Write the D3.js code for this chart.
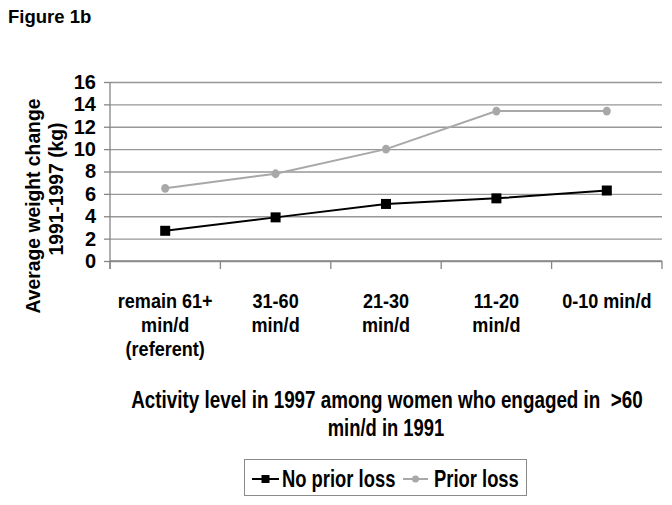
<!DOCTYPE html>
<html>
<head>
<meta charset="utf-8">
<script src="https://cdn.jsdelivr.net/npm/d3@7"></script>
<style>
  html, body { margin: 0; padding: 0; background: #fff; }
  text { font-family: "Liberation Sans", Arial, sans-serif; font-weight: bold; fill: #000; white-space: pre; }
</style>
</head>
<body>
<script>
// ---- data ----
const categories = ["remain 61+ min/d (referent)", "31-60 min/d", "21-30 min/d", "11-20 min/d", "0-10 min/d"];
const categoryLines = [["remain 61+", "min/d", "(referent)"], ["31-60", "min/d"], ["21-30", "min/d"], ["11-20", "min/d"], ["0-10 min/d"]];
const noPriorLoss = [2.7, 3.9, 5.1, 5.6, 6.3];
const priorLoss = [6.5, 7.8, 10.0, 13.4, 13.4];
const yTicks = [0, 2, 4, 6, 8, 10, 12, 14, 16];
const seriesNames = ["No prior loss", "Prior loss"];
const figureTitle = "Figure 1b";
const yTitleLines = ["Average weight change", "1991-1997 (kg)"];
const xTitleLines = ["Activity level in 1997 among women who engaged in  >60", "min/d in 1991"];

// ---- layout ----
const W = 672, H = 505;
const plot = { left: 110, right: 662, top: 82, bottom: 261 };
const BLACK = "#000", GREY = "#a8a8a8", GRID = "#979797", AXIS = "#858585";

const svg = d3.select("body").append("svg").attr("width", W).attr("height", H);

const x = d3.scaleBand().domain(categories).range([plot.left, plot.right]).padding(0);
const y = d3.scaleLinear().domain([0, 16]).range([plot.bottom, plot.top]);
const cx = (i) => x(categories[i]) + x.bandwidth() / 2;

// condensed text helper
function ctext(g, str, tx, ty, size, sx, anchor, rot) {
  return g.append("text")
    .attr("transform", `translate(${tx},${ty})${rot ? ` rotate(${rot})` : ""} scale(${sx},1)`)
    .attr("text-anchor", anchor)
    .attr("xml:space", "preserve")
    .style("font-size", size + "px")
    .text(str);
}

// Figure title
svg.append("text").attr("x", 8).attr("y", 23).style("font-size", "18.5px").text(figureTitle);

// gridlines
svg.append("g")
  .attr("transform", `translate(${plot.left},0)`)
  .call(d3.axisLeft(y).tickValues(yTicks).tickSize(-(plot.right - plot.left)).tickFormat(""))
  .call(g => g.select(".domain").remove())
  .call(g => g.selectAll("line").attr("stroke", GRID).attr("stroke-width", 1.3));

// y axis with ticks/labels
const yAxis = svg.append("g")
  .attr("transform", `translate(${plot.left},0)`)
  .call(d3.axisLeft(y).tickValues(yTicks).tickSize(6).tickPadding(8).tickSizeOuter(0));
yAxis.select(".domain").attr("stroke", AXIS).attr("stroke-width", 1.3)
  .attr("d", `M0,${plot.top}V${plot.bottom + 8}`);
yAxis.selectAll(".tick line").attr("stroke", AXIS).attr("stroke-width", 1.3);
yAxis.selectAll(".tick text").style("font-size", "20px").style("font-family", "Liberation Sans, Arial, sans-serif")
  .style("font-weight", "bold").attr("fill", "#000");

// x axis line (baseline) and band-boundary ticks
const bounds = categories.map(c => x(c)).concat([x(categories[categories.length - 1]) + x.bandwidth()]);
svg.append("g").selectAll("line").data(bounds).join("line")
  .attr("x1", d => d).attr("x2", d => d)
  .attr("y1", plot.bottom).attr("y2", plot.bottom + 8)
  .attr("stroke", AXIS).attr("stroke-width", 1.3);
svg.append("line").attr("x1", plot.left).attr("x2", plot.right)
  .attr("y1", y(0)).attr("y2", y(0)).attr("stroke", AXIS).attr("stroke-width", 1.3);

// category labels
const catG = svg.append("g");
categoryLines.forEach((lines, i) => {
  lines.forEach((ln, j) => {
    ctext(catG, ln, cx(i), 308 + j * 24, 21, 0.86, "middle");
  });
});

// y title
const ytG = svg.append("g");
ctext(ytG, yTitleLines[0], 40, 206, 21, 0.92, "middle", -90);
ctext(ytG, yTitleLines[1], 63, 189, 21, 0.92, "middle", -90);

// x title
const xtG = svg.append("g");
ctext(xtG, xTitleLines[0], 387, 408, 23, 0.82, "middle");
ctext(xtG, xTitleLines[1], 386, 436, 23, 0.8, "middle");

// series lines
const line = d3.line().x((d, i) => cx(i)).y(d => y(d));
svg.append("path").datum(priorLoss).attr("d", line)
  .attr("fill", "none").attr("stroke", GREY).attr("stroke-width", 2);
svg.append("path").datum(noPriorLoss).attr("d", line)
  .attr("fill", "none").attr("stroke", BLACK).attr("stroke-width", 2);

// markers
svg.append("g").selectAll("ellipse").data(priorLoss).join("ellipse")
  .attr("cx", (d, i) => cx(i)).attr("cy", d => y(d))
  .attr("rx", 4).attr("ry", 4.4).attr("fill", GREY);
const sq = 10;
svg.append("g").selectAll("rect").data(noPriorLoss).join("rect")
  .attr("x", (d, i) => cx(i) - sq / 2).attr("y", d => y(d) - sq / 2)
  .attr("width", sq).attr("height", sq).attr("fill", BLACK);

// legend
const lg = svg.append("g");
lg.append("rect").attr("x", 244.5).attr("y", 459.5).attr("width", 282).attr("height", 36)
  .attr("fill", "#fff").attr("stroke", "#8a8a8a").attr("stroke-width", 1);
lg.append("line").attr("x1", 252).attr("x2", 279).attr("y1", 479).attr("y2", 479)
  .attr("stroke", BLACK).attr("stroke-width", 2);
lg.append("rect").attr("x", 265.5 - 4).attr("y", 479 - 4).attr("width", 8).attr("height", 8).attr("fill", BLACK);
ctext(lg, seriesNames[0], 282, 487, 23, 0.8, "start");
lg.append("line").attr("x1", 403).attr("x2", 428).attr("y1", 479).attr("y2", 479)
  .attr("stroke", GREY).attr("stroke-width", 2);
lg.append("circle").attr("cx", 415.5).attr("cy", 479).attr("r", 3.5).attr("fill", GREY);
ctext(lg, seriesNames[1], 434, 487, 23, 0.8, "start");
</script>
</body>
</html>
